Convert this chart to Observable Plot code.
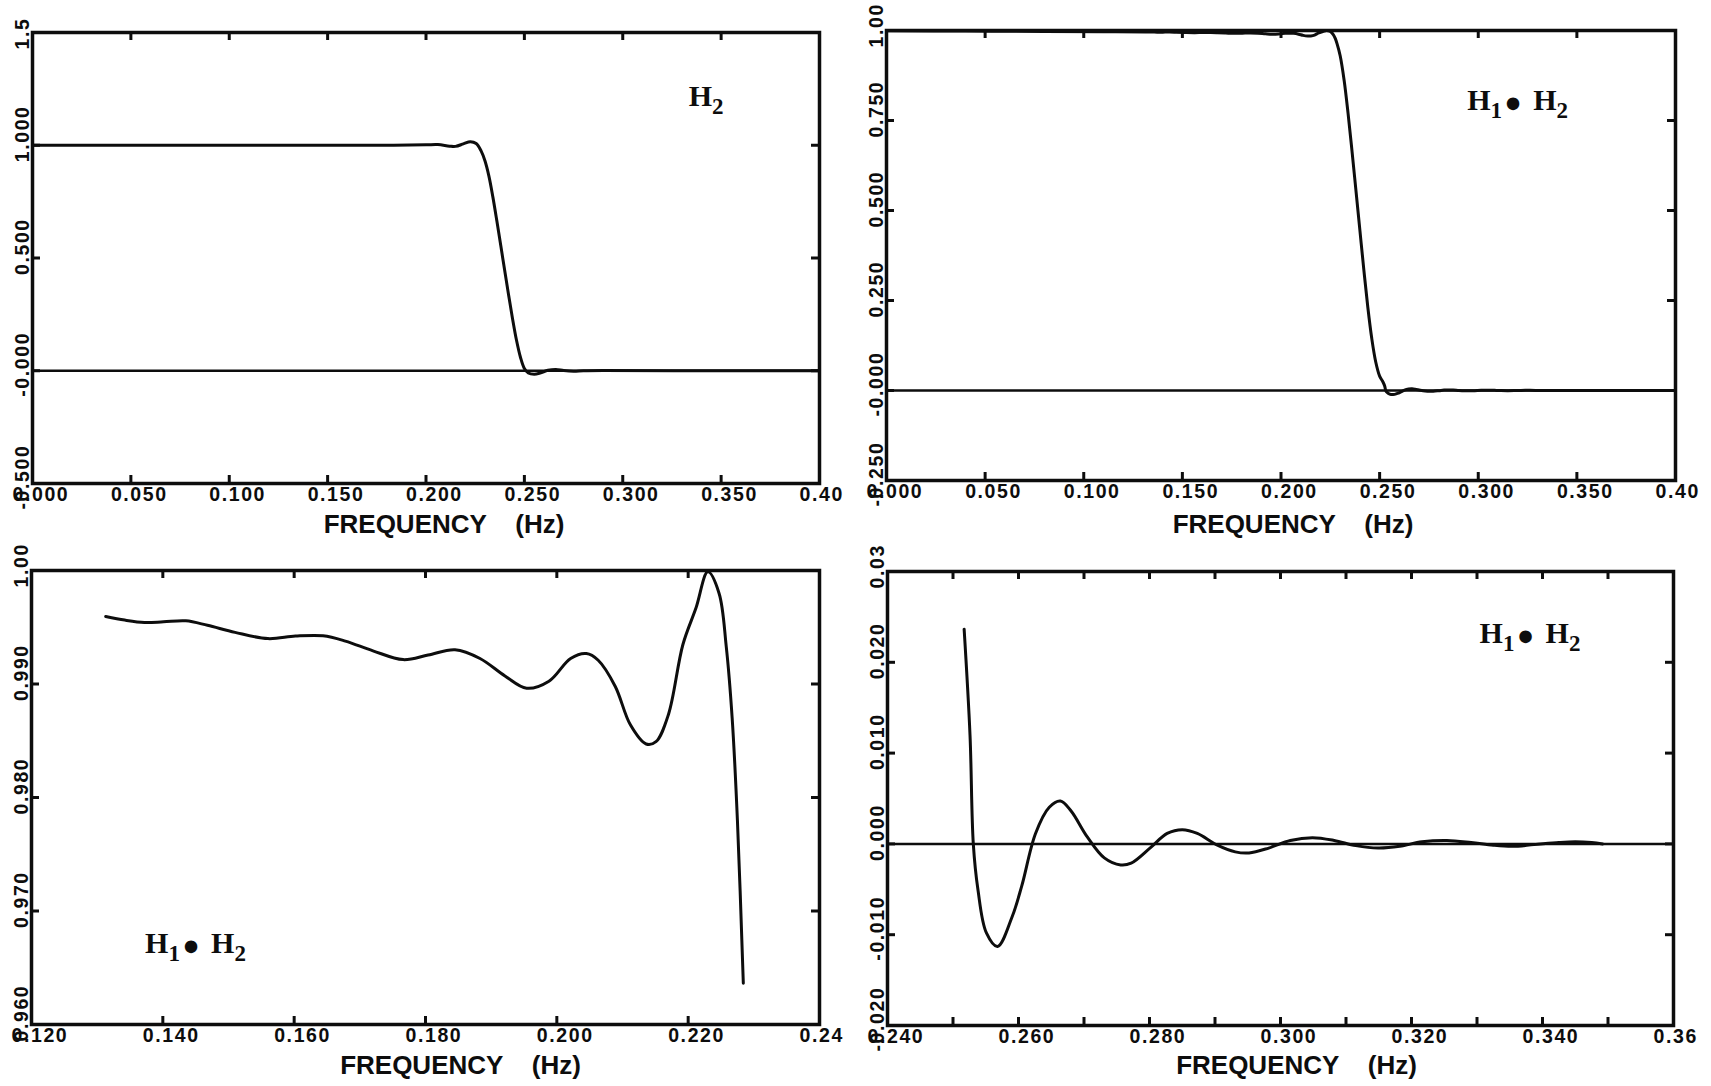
<!DOCTYPE html>
<html>
<head>
<meta charset="utf-8">
<script src="https://cdn.jsdelivr.net/npm/d3@7"></script>
<script src="https://cdn.jsdelivr.net/npm/@observablehq/plot@0.6"></script>
<style>
  html, body { margin: 0; padding: 0; background: #fff; }
  #page { position: relative; width: 1711px; height: 1086px; overflow: hidden; background: #fff; }
  .panel { position: absolute; }
  .panel svg { display: block; overflow: visible; max-width: none; }
  svg text, svg tspan { white-space: pre; }
  .tk text { letter-spacing: 1.6px; }
</style>
</head>
<body>
<div id="page"></div>
<script>
// ---------------- DATA ----------------
const freqAxisLabel = "FREQUENCY    (Hz)";

// H2 (top-left panel), full band
const h2Freq = [0.000, 0.050, 0.100, 0.150, 0.180, 0.200, 0.206, 0.212, 0.215, 0.219, 0.2225, 0.2255, 0.2280,
                0.2300, 0.2320, 0.2340, 0.2360, 0.2380, 0.2400, 0.2420, 0.2440, 0.2460, 0.2480, 0.2500,
                0.2520, 0.2550, 0.2580, 0.2620, 0.2660, 0.2700, 0.2750, 0.2800, 0.2900, 0.3500, 0.4000];
const h2Gain = [1.000, 1.000, 1.000, 1.000, 1.000, 1.002, 1.003, 0.996, 0.995, 1.006, 1.016, 1.008, 0.975,
                0.930, 0.862, 0.770, 0.665, 0.555, 0.445, 0.335, 0.230, 0.135, 0.060, 0.010,
                -0.010, -0.015, -0.010, 0.002, 0.006, 0.001, -0.002, 0.000, 0.001, 0.000, 0.000];

// H1•H2 low-frequency part (only seen in the full-band view)
const lowFreq = [0.000, 0.040, 0.080, 0.110];
const lowGain = [0.9990, 0.9985, 0.9975, 0.9965];

// H1•H2 passband detail (bottom-left panel)
const passFreq = [0.1313, 0.1342, 0.1372, 0.1401, 0.1435, 0.1468, 0.1510, 0.1560, 0.1602, 0.1644, 0.1678,
                  0.1720, 0.1766, 0.1804, 0.1845, 0.1883, 0.1921, 0.1954, 0.1988, 0.2021, 0.2045, 0.2063,
                  0.2089, 0.2112, 0.2136, 0.2151, 0.2170, 0.2192, 0.2212, 0.2230, 0.2247, 0.2258, 0.2267,
                  0.2275, 0.2284];
const passGain = [0.99594, 0.99563, 0.99542, 0.99548, 0.99557, 0.99517, 0.99455, 0.99400, 0.99422, 0.99425, 0.99378,
                  0.99292, 0.99215, 0.99255, 0.99302, 0.99225, 0.99071, 0.98963, 0.99025, 0.99225, 0.99268, 0.99209,
                  0.98978, 0.98640, 0.98471, 0.98492, 0.98732, 0.99348, 0.99671, 0.99988, 0.99800, 0.99330, 0.98700,
                  0.97800, 0.96363];

// H1•H2 transition band (only seen in the full-band view)
const transFreq = [0.2300, 0.2320, 0.2340, 0.2360, 0.2380, 0.2400, 0.2420, 0.2440, 0.2460, 0.2480, 0.2500];
const transGain = [0.930, 0.862, 0.770, 0.665, 0.555, 0.445, 0.335, 0.232, 0.145, 0.080, 0.040];

// H1•H2 stopband detail (bottom-right panel)
const stopFreq = [0.2517, 0.2526, 0.2531, 0.2538, 0.2551, 0.2568, 0.2590, 0.2605, 0.2626, 0.2647, 0.2664,
                  0.2680, 0.2705, 0.2731, 0.2756, 0.2772, 0.2802, 0.2827, 0.2850, 0.2873, 0.2902, 0.2931,
                  0.2952, 0.2982, 0.3015, 0.3049, 0.3082, 0.3115, 0.3149, 0.3182, 0.3216, 0.3254, 0.3291,
                  0.3325, 0.3354, 0.3387, 0.3425, 0.3450, 0.3475, 0.3492];
const stopGain = [0.02365, 0.01192, 0.00000, -0.00500, -0.00981, -0.01130, -0.00808, -0.00462, 0.00115, 0.00404, 0.00472,
                  0.00365, 0.00077, -0.00154, -0.00232, -0.00212, -0.00038, 0.00115, 0.00156, 0.00115, -0.00008, -0.00088,
                  -0.00100, -0.00046, 0.00038, 0.00069, 0.00038, -0.00019, -0.00046, -0.00027, 0.00023, 0.00038, 0.00015,
                  -0.00015, -0.00027, -0.00008, 0.00015, 0.00023, 0.00015, 0.00000];

// H1•H2 tail (only seen in the full-band view)
const tailFreq = [0.3600, 0.4000];
const tailGain = [0.0000, 0.0000];

// Tick values and labels
const fullXTicks  = [0, 0.05, 0.10, 0.15, 0.20, 0.25, 0.30, 0.35, 0.40];
const fullXLabels = ["0.000", "0.050", "0.100", "0.150", "0.200", "0.250", "0.300", "0.350", "0.40"];

const tlYTicks  = [-0.5, 0, 0.5, 1.0, 1.5];
const tlYLabels = ["-0.500", "-0.000", "0.500", "1.000", "1.5"];

const trYTicks  = [-0.25, 0, 0.25, 0.5, 0.75, 1.0];
const trYLabels = ["-0.250", "-0.000", "0.250", "0.500", "0.750", "1.00"];

const blXTicks  = [0.12, 0.14, 0.16, 0.18, 0.20, 0.22, 0.24];
const blXLabels = ["0.120", "0.140", "0.160", "0.180", "0.200", "0.220", "0.24"];
const blYTicks  = [0.96, 0.97, 0.98, 0.99, 1.00];
const blYLabels = ["0.960", "0.970", "0.980", "0.990", "1.00"];

const brXMinor  = [0.24, 0.25, 0.26, 0.27, 0.28, 0.29, 0.30, 0.31, 0.32, 0.33, 0.34, 0.35, 0.36];
const brXTicks  = [0.24, 0.26, 0.28, 0.30, 0.32, 0.34, 0.36];
const brXLabels = ["0.240", "0.260", "0.280", "0.300", "0.320", "0.340", "0.36"];
const brYTicks  = [-0.02, -0.01, 0, 0.01, 0.02, 0.03];
const brYLabels = ["-0.020", "-0.010", "0.000", "0.010", "0.020", "0.03"];

// ---------------- BUILD ----------------
const zip = (fs, gs) => fs.map((f, i) => ({f, g: gs[i]}));
const h2Series   = zip(h2Freq, h2Gain);
const passSeries = zip(passFreq, passGain);
const stopSeries = zip(stopFreq, stopGain);
const fullSeries = [
  ...zip(lowFreq, lowGain), ...passSeries, ...zip(transFreq, transGain),
  ...stopSeries, ...zip(tailFreq, tailGain)
];

const INK = "#0d0d0d";
const tickFont = {fontFamily: "Liberation Sans, Arial, sans-serif", fontWeight: "bold", fontSize: 19.5, fill: INK, className: "tk"};

function buildPanel(c) {
  const fw = c.width - c.ml - c.mr, fh = c.height - c.mt - c.mb, T = 8;
  const xl = c.xTicks.map((v, i) => ({v, s: c.xLabels[i]}));
  const yl = c.yTicks.map((v, i) => ({v, s: c.yLabels[i]}));
  const marks = [
    c.zero ? Plot.ruleY([0], {stroke: INK, strokeWidth: 2.5}) : null,
    Plot.line(c.series, {x: "f", y: "g", curve: "catmull-rom", stroke: INK, strokeWidth: 3}),
    Plot.tickX(c.xMarks, {x: d => d, insetTop: fh - T, stroke: INK, strokeWidth: 3}),
    Plot.tickX(c.xMarks, {x: d => d, insetBottom: fh - T, stroke: INK, strokeWidth: 3}),
    Plot.tickY(c.yTicks, {y: d => d, insetRight: fw - T, stroke: INK, strokeWidth: 3}),
    Plot.tickY(c.yTicks, {y: d => d, insetLeft: fw - T, stroke: INK, strokeWidth: 3}),
    Plot.frame({stroke: INK, strokeWidth: 3.5}),
    Plot.text(xl, {x: "v", text: "s", frameAnchor: "bottom", textAnchor: "start", lineAnchor: "top", dx: -20, dy: 4, ...tickFont}),
    Plot.text(yl.filter(d => !d.s.startsWith("-")), {y: "v", text: "s", frameAnchor: "left", rotate: -90, textAnchor: "start", lineAnchor: "bottom", dx: -4, dy: 17, ...tickFont}),
    Plot.text(yl.filter(d => d.s.startsWith("-")), {y: "v", text: "s", frameAnchor: "left", rotate: -90, textAnchor: "start", lineAnchor: "bottom", dx: -4, dy: 26, ...tickFont}),
    Plot.text([freqAxisLabel], {frameAnchor: "bottom", dx: c.labelDx, dy: c.labelDy, lineAnchor: "middle",
      fontFamily: "Liberation Sans, Arial, sans-serif", fontWeight: "bold", fontSize: 26, fill: INK}),
    Plot.text([c.annot], {x: c.ax, y: c.ay, textAnchor: "start", lineAnchor: "bottom",
      fontFamily: "Liberation Serif, Times New Roman, serif", fontWeight: "bold", fontSize: 30, fill: INK})
  ];
  const svg = Plot.plot({
    width: c.width, height: c.height,
    marginTop: c.mt, marginRight: c.mr, marginBottom: c.mb, marginLeft: c.ml,
    x: {domain: c.xDomain, axis: null},
    y: {domain: c.yDomain, axis: null},
    style: {background: "transparent", overflow: "visible"},
    marks
  });
  // subscripts for the H labels (dy is relative to the previous glyph's baseline)
  svg.querySelectorAll("text").forEach(t => {
    if (t.textContent !== c.annot) return;
    t.textContent = "";
    const add = (s, opts = {}) => {
      const ts = document.createElementNS("http://www.w3.org/2000/svg", "tspan");
      ts.textContent = s;
      for (const [k, v] of Object.entries(opts)) ts.setAttribute(k, v);
      t.appendChild(ts);
    };
    const SUB = 8, BUL = 9;
    const parts = c.annot.split("•");
    parts.forEach((p, i) => {
      if (i === 0) {
        add(p[0]);
      } else {
        add("•", {dx: 3, dy: BUL - SUB, "font-size": 46});
        add(p[0], {dx: 12, dy: -BUL});
      }
      add(p.slice(1), {dy: SUB, "font-size": 23});
    });
  });
  const div = document.createElement("div");
  div.className = "panel";
  div.style.left = c.left + "px";
  div.style.top = c.top + "px";
  div.appendChild(svg);
  document.getElementById("page").appendChild(div);
}

buildPanel({
  left: 0, top: 0, width: 855, height: 540, ml: 32, mt: 32, mr: 36, mb: 57,
  xDomain: [0, 0.4], yDomain: [-0.5, 1.5], series: h2Series, zero: true,
  xMarks: fullXTicks, xTicks: fullXTicks, xLabels: fullXLabels,
  yTicks: tlYTicks, yLabels: tlYLabels,
  labelDx: 18, labelDy: 41, annot: "H2", ax: 0.3335, ay: 1.176
});
buildPanel({
  left: 855, top: 0, width: 856, height: 540, ml: 31, mt: 30, mr: 36, mb: 60,
  xDomain: [0, 0.4], yDomain: [-0.25, 1.0], series: fullSeries, zero: true,
  xMarks: fullXTicks, xTicks: fullXTicks, xLabels: fullXLabels,
  yTicks: trYTicks, yLabels: trYLabels,
  labelDx: 12, labelDy: 44, annot: "H1•H2", ax: 0.2944, ay: 0.778
});
buildPanel({
  left: 0, top: 540, width: 855, height: 546, ml: 31, mt: 30, mr: 36, mb: 62,
  xDomain: [0.12, 0.24], yDomain: [0.96, 1.0], series: passSeries, zero: false,
  xMarks: blXTicks, xTicks: blXTicks, xLabels: blXLabels,
  yTicks: blYTicks, yLabels: blYLabels,
  labelDx: 35, labelDy: 41, annot: "H1•H2", ax: 0.1373, ay: 0.9663
});
buildPanel({
  left: 855, top: 540, width: 856, height: 546, ml: 32, mt: 31, mr: 38, mb: 61,
  xDomain: [0.24, 0.36], yDomain: [-0.02, 0.03], series: stopSeries, zero: true,
  xMarks: brXMinor, xTicks: brXTicks, xLabels: brXLabels,
  yTicks: brYTicks, yLabels: brYLabels,
  labelDx: 16, labelDy: 40, annot: "H1•H2", ax: 0.3304, ay: 0.0221
});
</script>
</body>
</html>
